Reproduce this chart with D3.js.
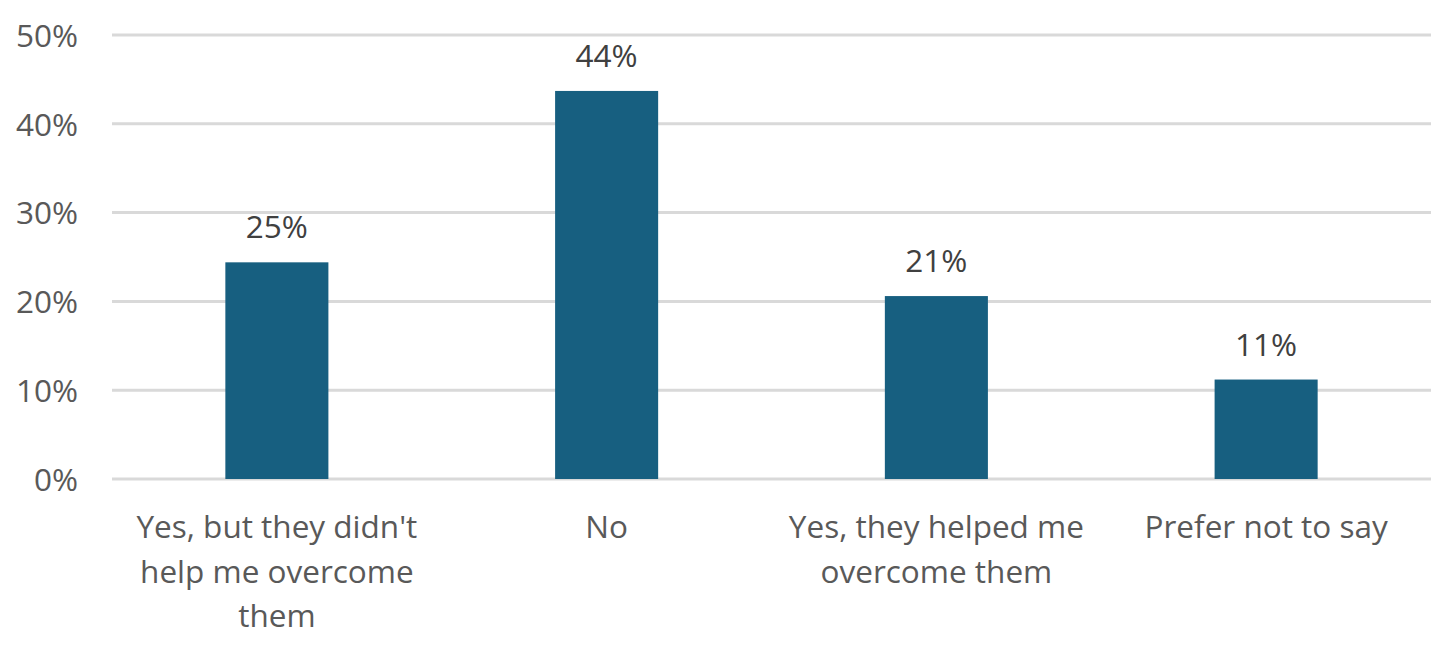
<!DOCTYPE html>
<html>
<head>
<meta charset="utf-8">
<script src="https://d3js.org/d3.v7.min.js"></script>
<style>
  body { margin: 0; background: #fff; }
  text { font-family: "Open Sans", "Noto Sans", sans-serif; }
</style>
</head>
<body>
<svg id="chart" width="1450" height="648"></svg>
<script>
var categories = ["Yes, but they didn't\nhelp me overcome\nthem", "No", "Yes, they helped me\novercome them", "Prefer not to say"];
var values = [24.4, 43.7, 20.6, 11.2];
var valueLabels = ["25%", "44%", "21%", "11%"];
var yTicks = [0, 10, 20, 30, 40, 50];

var width = 1450;
var height = 648;
var padding = { t: 35, r: 19, b: 169, l: 112 };
var fontSize = "31.5px";

var svg = d3.select('#chart');

var xScale = d3.scaleBand()
    .domain(categories)
    .range([padding.l, width - padding.r])
    .paddingInner(0.6875)
    .paddingOuter(0.34375);

var yScale = d3.scaleLinear()
    .domain([0, 50])
    .range([height - padding.b, padding.t]);

// gridlines
svg.append("g")
    .selectAll("line")
    .data(yTicks)
    .enter()
    .append("line")
    .attr("x1", padding.l)
    .attr("x2", width - padding.r)
    .attr("y1", d => yScale(d))
    .attr("y2", d => yScale(d))
    .attr("stroke", "#d9d9d9")
    .attr("stroke-width", 3);

// y axis labels
var yAxis = d3.axisLeft(yScale).tickValues(yTicks).tickSize(0).tickPadding(0).tickFormat(d => d + "%");
svg.append("g")
    .attr("transform", `translate(78,0)`)
    .call(yAxis)
    .call(g => g.select(".domain").remove())
    .selectAll("text")
    .attr("fill", "#595959")
    .style("font-size", fontSize)
    .attr("dy", "0.36em");

// bars
svg.append("g")
    .selectAll("rect")
    .data(values)
    .enter()
    .append("rect")
    .attr("x", (d, i) => xScale(categories[i]))
    .attr("width", xScale.bandwidth())
    .attr("y", d => yScale(d))
    .attr("height", d => yScale(0) - yScale(d))
    .attr("fill", "#175f80");

// value labels
svg.append("g")
    .selectAll("text")
    .data(values)
    .enter()
    .append("text")
    .attr("x", (d, i) => xScale(categories[i]) + xScale.bandwidth() / 2)
    .attr("y", d => yScale(d) - 24)
    .attr("text-anchor", "middle")
    .attr("fill", "#404040")
    .style("font-size", fontSize)
    .text((d, i) => valueLabels[i]);

// category labels
var catLabels = svg.append("g")
    .selectAll("text")
    .data(categories)
    .enter()
    .append("text")
    .attr("x", d => xScale(d) + xScale.bandwidth() / 2)
    .attr("y", 538)
    .attr("text-anchor", "middle")
    .attr("fill", "#595959")
    .style("font-size", fontSize);

catLabels.each(function (d) {
    var lines = d.split("\n");
    var t = d3.select(this);
    lines.forEach((line, i) => {
        t.append("tspan")
            .attr("x", t.attr("x"))
            .attr("y", 538 + i * 44.5)
            .text(line);
    });
});
</script>
</body>
</html>
